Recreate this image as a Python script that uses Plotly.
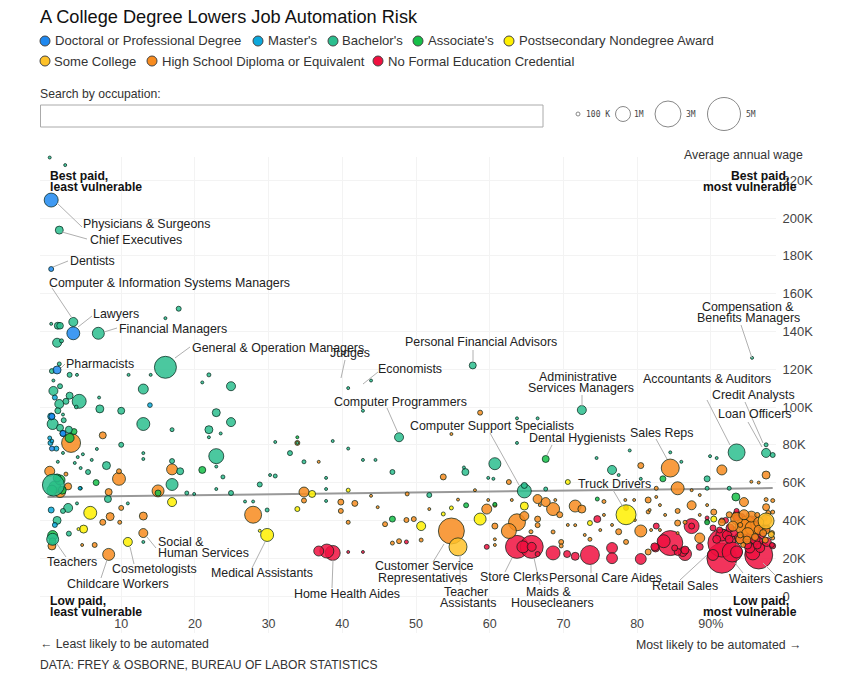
import numpy as np
import plotly.graph_objects as go

# ---------- data: x = automation probability (%), y = wage ($K), emp = employment (thousands)
noformal_x = [38.7,37.9,36.8,40.8,42.8,48.7,59.6,63.7,65.7,64.5,65.7,66.5,68.6,70.5,71.6,73.6,76.6,76.6,80.5,74.6,78.5,82.5,84.5,83.6,86.5,86.5,85.5,82.6,87.4,87.4,
              91.5,91.5,96.5,92.9,90.3,95.7,91.5,92.6,92.2,93.9,94.9,96.3,97.6,98.3,98.4,93.5,93.5,95.7,96.7,93.5,95.3,96.7,88.5,85.1,82.4,86.2,90.3,91.2,89.5,89.5,93.4,
              94.5,95.5,96.5,97.5,93,94,95,96,97,92,93.5,95,96.3,97.3,94.2,95.8,92.5,90.8,91.5]
noformal_y = [22.8,23.8,23.8,23.3,23.3,28.6,26,26,26,26,26,22.2,22.8,22.2,21,21.7,25.4,20,19.6,40.7,46.6,25.4,28,29,22.2,24.3,23.3,37,37,37,
              20,28,21.7,23.3,21.7,22.8,32.3,36,32.3,31.2,30.7,28.6,28.6,27,26.5,42.9,41.3,34.9,33.3,23.3,25.4,25.4,26,25.4,26,23.3,36,34.9,41.3,39.5,41.8,
              38,40,38,36,34,30,27,30,36,40,45,33,27,41,42,36,30,30,40]
noformal_emp = [1000,870,444,30,18,71,111,2350,2350,640,360,111,870,218,284,1600,530,530,530,218,111,284,2780,750,750,284,218,160,1000,160,
                4000,3480,3480,1778,530,870,640,284,360,444,640,530,360,111,160,284,160,1440,640,640,444,360,218,160,284,360,160,160,71,71,218,
                444,360,284,284,444,360,284,444,160,160,111,530,284,111,160,284,284,284,111]

hs_x = [54.8,27.9,3.2,84.5,91.5,80.5,97.5,85.5,7.5,0.3,9.7,9.7,8.3,16.9,15,2.8,1.7,8.5,7.5,9.8,13,10,13,6.4,4.7,0.6,8.3,33.9,34.8,34.8,39.8,41.7,39.8,40.8,45.8,48.7,49.7,48.8,47.7,46.8,50.7,53.7,58.7,54.8,36.8,62.6,59.6,60.7,63.7,62.6,64.7,66.5,67.6,66.5,66.5,68.6,68.6,60.7,60.7,60.7,65.6,69.5,71.6,72.5,77.5,80.5,81.5,81.5,82.6,78.5,75.5,73.6,71.6,69.7,69.7,87.4,85.5,85.5,86.5,90.4,91.5,88.5,97.5,94.5,98.4,97.5,95.5,96.5,81.5,
        94.4,94.9,95.6,97.5,96.3,97.8,98.4,98.3,98.4,96,94.9,97.1,97.4,94,94,94.4,
        79.6,82.6,81.7,83.1,83.8,83.1,79.7,78.4,75.5,76.6,88.5,89.5,88.5,87.4,85.5,81.9,75,72.9,70.6,68.9,66.8,63,59.8,58,2.5,43.9,44.8,55.7,51.8,
        93.5,94.5,95.5,96.5,97.5,93,95,96.5,92.5,94]
hs_y = [34.4,43,81,67.7,66.7,69,64,57,85,66,62,66,55,67,55.6,58,55,42,39,39,42.3,46.6,33.3,27,27,26.5,22,81,55,50.5,49.7,49,45,39,38,40.2,40.7,54,29,28,29.6,63,97,85.7,71,60.3,46,48,39,34.4,42.3,51.3,49.7,40.7,37.5,46,33.9,37,30,27,34,43,47.6,46,34,34.4,50.8,44.5,57,28.6,50,30,37.5,28.6,26.5,48,45,38.6,39,44.4,39,30.7,47,49.7,50.5,51,60.5,60,23.3,
        36.5,37.6,36,40.2,42.9,43.9,44.4,33.3,30.7,31.2,29.6,33.3,29.6,37.6,32.3,27,
        50.8,52.4,45.5,48.1,42.9,34.9,40.2,50.8,42.9,37.6,53.4,48.1,42.9,56,33.3,34.9,34.9,32.3,37.6,50.8,48.1,50.8,50.8,56,64.5,53,47,51,46,
        41,43,42,39,35,37,33,35,43,30]
hs_emp = [3000,1280,1600,1440,444,160,284,750,218,444,750,111,218,530,640,218,530,284,160,71,284,111,360,111,40,284,640,111,444,111,160,160,111,71,111,111,111,71,111,71,71,160,111,40,40,111,444,71,1280,1000,360,360,360,160,111,750,71,160,40,40,71,160,640,284,160,640,160,71,71,111,71,71,40,111,71,360,111,160,71,160,218,444,218,360,71,71,30,40,160,
         1138,1440,870,530,111,111,71,111,71,218,284,218,160,111,160,111,
         30,30,30,18,30,30,18,30,30,18,30,18,30,18,30,18,30,18,30,18,30,18,30,18,71,18,30,18,18,
         640,444,530,444,284,444,640,360,160,360]

somecollege_x = [55.7,97.5,98.2]
somecollege_y = [26,39.7,32.5]
somecollege_emp = [1440,1138,160]

postsec_x = [78.5,29.8,5.8,4.9,10.9,16.9,58.7,50.7,64.7,35.9,33.9,40.8,53.7,54.8,70.6,73.6,90.4,4.2,28.8]
postsec_y = [43,32.3,44,35.4,28.6,49.7,40.7,37,47.6,54,46,56,43.4,46.6,60.3,38.6,40.7,35.4,34.5]
postsec_emp = [1778,750,750,284,360,360,640,360,284,218,111,71,71,71,111,111,160,40,40]

assoc_x = [67.6,6.6,21,15,0.7,0.7,46.8,56.8,60.7,83.5,74.6,93.4,89.5,33.9,1,1.7,0.6,2,1.3,3,3.6]
assoc_y = [72.5,60,66.7,54.5,32,29,40.7,48,48.5,62,51.3,52.4,39,84,57.7,61.4,56,56,62.5,83.6,87]
assoc_emp = [218,160,218,160,444,200,160,111,71,160,71,284,111,18,640,444,444,284,284,360,160]

bach_x = [16,1.6,6.9,3.5,1.4,1.7,17.8,16,0.5,1.3,1.9,1.6,0.6,3,4,0.8,1.7,0.8,3,4.3,2.5,1.6,1.4,3.9,7,11,14,13,7.1,10,13,2.1,2.2,0.7,1.7,2.9,21.9,24.9,21,
          22.9,24.9,21.9,21.9,23.5,22.9,16.9,10,30.9,32.9,13,13,16.9,8,5.5,18,23.8,22.9,30.9,28.8,30.2,16.9,22.9,24.9,18.9,19.9,4.5,0.8,8.2,2.8,4,10.9,2.1,1.3,26.8,27.9,29.8,0.7,2.9,13,
          47.7,42.8,34.8,37.8,37.8,37.8,46.8,51.8,60.7,56.7,59.8,64.7,64.7,67.6,63.7,63.7,66.5,72.5,57.7,76.6,93.5,97.5,97.5,98.4,89.5,92.5,89.5,95.6,40.8,43.9,89.9,90.8,80.5,
          1.4,2.1,3.7,4.5,6,6.7,4.8,4.1,0.3,2.4,38.7,33.9,44.5,56.5,60.5,40.8,42.8,79,84.5,86,74.5,77.5]
bach_y = [121,193.6,139,145,143,143,152,147,144,134,135,122.8,119,117,117,114,111,108.5,106,103,103,101.6,98,100,105,117,117,109.5,99,98,91,96,93,91,89,88,117,111,113,
          97,92,88,84,86,74,88,80,81.5,75.6,75.6,72.5,71.4,69,65.6,66,63,68.5,63.5,59,64,59,56.6,54.5,54.5,54,57,58.7,51.3,46.6,49,49,45,40,50,50,45.5,30,33,28.6,
          84,98,71,62.5,56.6,50.3,65.6,53.4,70,65.6,62.5,55.6,58.5,56.6,94,81,94,98.4,122,66.7,76,80,75.7,74.6,62,57,57,126,110,114,74,73,62,
          71,75.7,70.4,67.7,72,77.8,75,73.5,232,228,82,81,72,68,62,78,72,77,76,71,73,64]
bach_emp = [2150,284,640,360,218,200,111,40,18,360,71,71,111,111,40,40,111,360,218,870,160,360,160,60,40,40,40,444,284,218,750,40,111,540,218,218,71,360,18,
            284,360,284,40,30,1000,71,111,40,111,40,40,111,284,111,218,71,18,71,111,18,640,40,111,71,18,50,2150,218,360,40,40,111,284,40,18,71,640,111,40,
            360,18,71,40,40,40,111,111,640,218,18,870,160,71,18,18,18,360,218,360,1270,71,360,111,160,71,71,18,18,18,40,40,18,
            30,40,18,18,18,18,18,30,18,18,18,18,18,18,18,18,18,18,18,18,18,18]

master_x = [1,0.5,2.1,0.3,0.6,0.5,1,4.4,13.9,0.4,1.2]
master_y = [105,95,86,83.6,82,45.5,37.6,57,101,81,78]
master_emp = [111,218,160,71,60,160,111,60,100,111,111]

doctoral_x = [0.5,0.5,3.5,1.3,2.1,0.6,0.6]
doctoral_y = [209.5,173,139,119.6,86,95,78]
doctoral_emp = [870,111,740,284,160,160,110]

trend_x = [0, 98.4]
trend_y = [52.4, 57.1]

categories = ["Doctoral or Professional Degree", "Master's", "Bachelor's", "Associate's",
              "Postsecondary Nondegree Award", "Some College",
              "High School Diploma or Equivalent", "No Formal Education Credential"]
x_ticks = [10, 20, 30, 40, 50, 60, 70, 80, 90]
x_labels = ["10", "20", "30", "40", "50", "60", "70", "80", "90%"]
y_ticks = [0, 20, 40, 60, 80, 100, 120, 140, 160, 180, 200, 220]
y_labels = ["0", "20K", "40K", "60K", "80K", "100K", "120K", "140K", "160K", "180K", "200K", "220K"]

# ---------- styles
colors = {"Doctoral or Professional Degree": "#1E88F0", "Master's": "#0CA8DC", "Bachelor's": "#2BBE8E",
          "Associate's": "#16BF48", "Postsecondary Nondegree Award": "#FFF000", "Some College": "#FFC229",
          "High School Diploma or Equivalent": "#F78B1F", "No Formal Education Credential": "#F0103F"}
W, H = 859, 678
L, R, T, B = 40, 776, 157, 633
TXT = "#222222"
FONT = "Liberation Sans"

def px(x): return (x - L) / (R - L)
def py(y): return (B - y) / (B - T)

def rgba(c, a=0.85):
    return f"rgba({int(c[1:3],16)},{int(c[3:5],16)},{int(c[5:7],16)},{a})"

fig = go.Figure()
series = [("No Formal Education Credential", noformal_x, noformal_y, noformal_emp),
          ("High School Diploma or Equivalent", hs_x, hs_y, hs_emp),
          ("Some College", somecollege_x, somecollege_y, somecollege_emp),
          ("Postsecondary Nondegree Award", postsec_x, postsec_y, postsec_emp),
          ("Associate's", assoc_x, assoc_y, assoc_emp),
          ("Bachelor's", bach_x, bach_y, bach_emp),
          ("Master's", master_x, master_y, master_emp),
          ("Doctoral or Professional Degree", doctoral_x, doctoral_y, doctoral_emp)]

fig.add_trace(go.Scatter(x=trend_x, y=trend_y, mode="lines", line=dict(color="#999999", width=2),
                         hoverinfo="skip", showlegend=False, cliponaxis=False))
for name, xs, ys, es in series:
    n = min(len(xs), len(ys), len(es))
    order = np.argsort(-np.array(es[:n]), kind="stable")
    fig.add_trace(go.Scatter(
        x=np.array(xs[:n])[order], y=np.array(ys[:n])[order], mode="markers", name=name, showlegend=False,
        cliponaxis=False,
        marker=dict(size=np.array(es[:n], dtype=float)[order], sizemode="area", sizeref=8.89, sizemin=1.5, opacity=1,
                    color=rgba(colors[name]), line=dict(color="rgba(0,30,20,0.7)", width=1))))

anns, shapes = [], []
def text(x, y, s, size=12.4, anchor="left", bold=False, color=TXT, family=FONT):
    anns.append(dict(x=px(x), y=py(y), xref="paper", yref="paper", text=f"<b>{s}</b>" if bold else s, showarrow=False,
                     xanchor=anchor, yanchor="middle", borderpad=0, borderwidth=0,
                     font=dict(size=size, color=color, family=family)))
def circle(x, y, d, fill=None, line="#333333", w=1):
    shapes.append(dict(type="circle", xref="paper", yref="paper", xsizemode="pixel", ysizemode="pixel",
                       xanchor=px(x), yanchor=py(y), x0=-d/2, x1=d/2, y0=-d/2, y1=d/2,
                       fillcolor=fill or "rgba(0,0,0,0)", line=dict(color=line, width=w)))
def seg(a, b, c, d):
    shapes.append(dict(type="line", xref="paper", yref="paper", x0=px(a), y0=py(b), x1=px(c), y1=py(d),
                       line=dict(color="#b0b0b0", width=1)))

# header
text(40, 17, "A College Degree Lowers Job Automation Risk", size=18.2, color="#111111")
legend_pos = [(45, 41, 55), (258, 41, 268), (333, 41, 342), (418, 41, 428), (509, 41, 519),
              (45, 61, 54), (152, 61, 162), (378, 61, 388)]
legend_order = [0, 1, 2, 3, 4, 5, 6, 7]
for (cx, cy, tx), i in zip(legend_pos, legend_order):
    circle(cx, cy, 10, fill=colors[categories[i]], line="#444444")
    text(tx, cy, categories[i], size=13.1, color="#333333")

text(40, 94, "Search by occupation:", size=12.2, color="#333333")
shapes.append(dict(type="rect", xref="paper", yref="paper", x0=px(40.5), x1=px(543), y0=py(105), y1=py(127),
                   line=dict(color="#aaaaaa", width=1), fillcolor="white"))
for cx, d, tx, s in [(578, 4, 586, "100 K"), (623, 15, 634, "1M"), (668, 26, 686, "3M"), (724, 33, 746, "5M")]:
    circle(cx, 114, d, line="#888888")
    text(tx, 114, s, size=8, family="DejaVu Sans Mono", color="#444444")
text(684, 155, "Average annual wage", size=12.3, color="#333333")

# corner notes
for x, y, s in [(50, 176, "Best paid,"), (50, 187, "least vulnerable"), (731, 176, "Best paid,"), (703, 187, "most vulnerable"),
                (50, 601, "Low paid,"), (50, 612, "least vulnerable"), (733, 601, "Low paid,"), (703, 612, "most vulnerable")]:
    text(x, y, s, size=12.2, bold=True, color="#111111")

# occupation labels
labels = [(83,224,"Physicians & Surgeons"),(90,240,"Chief Executives"),(70,261,"Dentists"),
          (49,283,"Computer & Information Systems Managers"),(93,314,"Lawyers"),(119,329,"Financial Managers"),
          (192,348,"General & Operation Managers"),(330,353,"Judges"),(378,369,"Economists"),(66,364,"Pharmacists"),
          (405,342,"Personal Financial Advisors"),(334,402,"Computer Programmers"),(539,377,"Administrative"),
          (528,388,"Services Managers"),(643,379,"Accountants & Auditors"),(712,395,"Credit Analysts"),
          (718,414,"Loan Officers"),(702,307,"Compensation &"),(697,318,"Benefits Managers"),
          (410,426,"Computer Support Specialists"),(529,438,"Dental Hygienists"),(630,433,"Sales Reps"),
          (578,484,"Truck Drivers"),(47,562,"Teachers"),(67,584,"Childcare Workers"),(112,569,"Cosmetologists"),
          (158,542,"Social &"),(158,553,"Human Services"),(211,573,"Medical Assistants"),
          (375,566,"Customer Service"),(378,578,"Representatives"),(294,594,"Home Health Aides"),
          (444,592,"Teacher"),(440,603,"Assistants"),(480,577,"Store Clerks"),(549,578,"Personal Care Aides"),
          (526,592,"Maids &"),(511,603,"Housecleaners"),(652,586,"Retail Sales"),(729,579,"Waiters"),(774,579,"Cashiers")]
for x, y, s in labels:
    text(x, y, s)

leaders = [(57,203,82,227),(62,232,87,239),(53,267,68,261),(52,288,72,318),(78,327,92,316),(104,332,117,328),
           (175,358,190,347),(61,368,65,364),(57,544,66,557),(107,560,101,578),(130,547,134,564),(147,537,156,548),
           (265,542,252,568),(333,560,332,588),(444,544,433,562),(460,555,460,585),(512,558,505,572),(534,558,540,585),
           (387,408,398,433),(490,433,519,485),(552,445,547,455),(582,395,582,406),(473,350,473,361),(345,360,341,378),
           (378,372,363,384),(656,439,667,459),(613,490,623,507),(591,565,591,573),(707,555,680,580),(735,563,743,573),
           (763,563,775,575),(707,400,730,445),(745,402,763,443),(748,422,762,447),(741,325,752,358)]
for a in leaders:
    seg(*a)

# footer
text(40, 644, "← Least likely to be automated", size=12.3, color="#333333")
text(801, 645, "Most likely to be automated →", size=12.3, anchor="right", color="#333333")
text(40, 665, "DATA: FREY & OSBORNE, BUREAU OF LABOR STATISTICS", size=12.1, color="#333333")

fig.update_layout(
    width=W, height=H, margin=dict(l=L, r=W-R, t=T, b=H-B, pad=0, autoexpand=False),
    paper_bgcolor="white", plot_bgcolor="white", showlegend=False,
    font=dict(family=FONT, size=12, color="#444444"),
    annotations=anns, shapes=shapes,
    xaxis=dict(range=[(L-47.5)/7.37, (R-47.5)/7.37], tickmode="array", tickvals=x_ticks, ticktext=x_labels,
               ticklabelposition="inside", showgrid=True, gridcolor="#f3f3f3", zeroline=False, showline=False,
               ticks="", tickfont=dict(size=12.5, color="#444444", family=FONT)),
    yaxis=dict(range=[(596-B)/1.89, (596-T)/1.89], side="right", tickmode="array", tickvals=y_ticks, ticktext=y_labels,
               showgrid=True, gridcolor="#f3f3f3", zeroline=False, showline=False,
               ticks="outside", ticklen=3, tickcolor="rgba(0,0,0,0)",
               tickfont=dict(size=13, color="#444444", family=FONT)),
)
fig.write_html("out.html", config=dict(displayModeBar=False),
               post_script="document.body.style.margin='0';document.documentElement.style.overflow='hidden';")
